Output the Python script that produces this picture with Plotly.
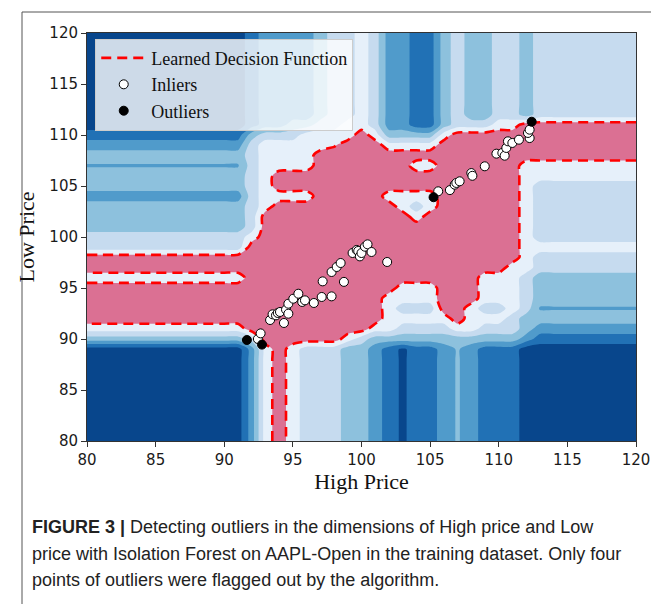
import numpy as np
import plotly.graph_objects as go

# Isolation-forest decision score sampled on a 1-unit grid of (High, Low) prices.
# Rows run from Low = 120 (top) down to Low = 80, columns from High = 80 to 120.
# Each row is run-length coded as "band*count": band 0 is the most anomalous
# level, band 6 lies inside the learned decision boundary.
grid_high = list(range(80, 121))
grid_low_desc = list(range(120, 79, -1))

TOP_ROW = "0*12 1 2*4 3 4*2 5 4 2*2 1*2 3 4 3*2 4*2 3 4*8"
BOTTOM_ROW = "0*12 2 5 6 5 4*3 3*2 2 1 0.3 1*2 2 2.6 2 1*3 0*9"

score_rows = [TOP_ROW] * 9 + [
    "0*12 1 2*2 3*2 4*2 5*2 4 2*2 1*2 3 4*3 5*2 6*9",   # 111
    "1*12 3 4*3 5*4 6 5 3*4 5 6*14",                    # 110
    "2*12 4 5*5 5.4 6*3 5*4 6*15",                      # 109
    "3*12 4 5*4 6*24",                                  # 108
    "2.4*12 4 5*4 6*7 5*2 6*6 5*9",                     # 107
    "3*12 4 5 6*18 5*9",                                # 106
    "3*12 4 5 6*18 5 4*8",                              # 105
    "2*12 4 5*4 6*5 5*4 6*6 5 4*8",                     # 104
    "3*12 4 5 6*9 5 4 5 6*6 5 4*8",                     # 103
    "3*12 4 6*11 5 6*7 5 4*8",                          # 102
    "3*12 4 6*19 5 4*8",                                # 101
    "4*12 5 6*19 5 4*8",                                # 100
    "4*12 6*20 5*9",                                    # 99
    "6*32 5 4*8",                                       # 98
    "6*31 5*2 4*8",                                     # 97
    "5*12 6*17 5*3 4 3*8",                              # 96
    "6*23 5*3 6*3 5*3 4 3*8",                           # 95
    "6*22 5*4 6*3 5*3 4 3*8",                           # 94
    "6*22 5 4*3 6*2 5 4*2 5 4 2.4*8",                   # 93
    "6*22 5*5 6 5*3 4 3*9",                             # 92
    "5*12 6*9 5*2 4*4 5*2 4*3 3 2*8",                   # 91
    "3*12 4 6*6 5 4 3*11 2 1*8",                        # 90
] + [BOTTOM_ROW] * 10

# Training points (High, Low)
inlier_high = [92.45, 92.65, 93.34, 93.52, 93.77, 93.9, 94.06, 94.35, 94.5, 94.67,
               94.67, 95.03, 95.4, 95.68, 95.88, 96.53, 97.1, 97.17, 97.82, 97.82,
               98.19, 98.48, 98.72, 99.35, 99.65, 99.76, 99.88, 100.0, 100.25, 100.44,
               100.73, 101.87, 105.59, 106.44, 106.79, 106.91, 107.15, 108.0, 108.08,
               108.98, 109.83, 110.26, 110.43, 110.55, 110.67, 110.99, 111.47, 112.25,
               112.13, 112.25]
inlier_low = [90.0, 90.55, 91.86, 92.42, 92.32, 92.55, 92.65, 91.57, 92.88, 93.46,
              92.48, 93.95, 94.44, 93.63, 93.79, 93.53, 94.12, 95.65, 94.18, 96.57,
              97.06, 97.45, 95.6, 98.43, 98.73, 98.63, 98.1, 98.43, 99.05, 99.28,
              98.53, 97.55, 104.48, 104.6, 105.13, 105.3, 105.46, 106.27, 106.0,
              106.93, 108.17, 108.24, 107.97, 108.73, 109.38, 109.22, 109.54, 109.7,
              110.2, 110.52]
outlier_high = [91.65, 92.75, 105.25, 112.4]
outlier_low = [89.9, 89.45, 103.9, 111.3]

band_colors = ["#08468c", "#2171b5", "#509bcb", "#8dc1dd", "#c6dbef", "#e6f0fa", "#db7093"]


def decode(row):
    values = []
    for tok in row.split():
        v, _, n = tok.partition("*")
        values.extend([float(v)] * int(n or 1))
    return values


Z = np.array([decode(r) for r in score_rows])[::-1]
grid_low = grid_low_desc[::-1]
assert Z.shape == (41, 41), Z.shape

nb = len(band_colors)
colorscale = []
for k, c in enumerate(band_colors):
    lo = max(0.0, (k - 0.5) / (nb - 1))
    hi = min(1.0, (k + 0.5) / (nb - 1))
    colorscale += [[lo, c], [hi, c]]

SMOOTH = 0.7
DASH = "10px,6px"

fig = go.Figure()
fig.add_trace(go.Contour(
    x=grid_high, y=grid_low, z=Z,
    contours=dict(start=0.5, end=5.5, size=1, coloring="fill", showlines=False),
    colorscale=colorscale, showscale=False,
    line=dict(width=0, smoothing=SMOOTH),
    hoverinfo="skip", showlegend=False,
))
fig.add_trace(go.Contour(
    x=grid_high, y=grid_low, z=Z,
    contours=dict(start=5.5, end=5.5, size=1, coloring="none"),
    showscale=False,
    line=dict(color="#ff0000", width=2.6, dash=DASH, smoothing=SMOOTH),
    hoverinfo="skip", showlegend=False,
))
fig.add_trace(go.Scatter(
    x=[None], y=[None], mode="lines", name="Learned Decision Function",
    line=dict(color="#ff0000", width=2.6, dash=DASH),
))
fig.add_trace(go.Scatter(
    x=inlier_high, y=inlier_low, mode="markers", name="Inliers",
    marker=dict(color="white", size=9, line=dict(color="black", width=1)),
))
fig.add_trace(go.Scatter(
    x=outlier_high, y=outlier_low, mode="markers", name="Outliers",
    marker=dict(color="black", size=9, line=dict(color="black", width=1)),
))

axis_common = dict(
    range=[80, 120], tickvals=list(range(80, 121, 5)), ticks="outside", ticklen=5,
    tickwidth=1, tickcolor="#333", showline=True, linecolor="#333", linewidth=1,
    mirror=True, showgrid=False, zeroline=False, automargin=False,
    tickfont=dict(family="DejaVu Sans", size=15, color="#1a1a1a"),
)

fig.update_layout(
    width=651, height=604, autosize=False,
    margin=dict(l=87, r=15, t=33, b=163),
    paper_bgcolor="white", plot_bgcolor="white",
    xaxis=dict(**axis_common, title=dict(text="High Price", standoff=4,
               font=dict(family="Liberation Serif", size=22, color="#111"))),
    yaxis=dict(**axis_common, title=dict(text="Low Price", standoff=8,
               font=dict(family="Liberation Serif", size=22, color="#111"))),
    legend=dict(x=0.015, y=0.986, xanchor="left", yanchor="top",
                bgcolor="rgba(255,255,255,0.8)", bordercolor="#cccccc", borderwidth=1,
                font=dict(family="Liberation Serif", size=18, color="#111"),
                itemwidth=45),
    showlegend=True,
)

# Figure caption
caption = [
    "<b>FIGURE 3 |</b> Detecting outliers in the dimensions of High price and Low",
    "price with Isolation Forest on AAPL-Open in the training dataset. Only four",
    "points of outliers were flagged out by the algorithm.",
]
for i, line in enumerate(caption):
    fig.add_annotation(
        text=line, xref="paper", yref="paper",
        x=(30 - 87) / 549, y=(441 - 527 - 26.5 * i) / 408,
        xanchor="left", yanchor="middle", showarrow=False,
        font=dict(family="Liberation Sans", size=18, color="#222"),
    )

# Page frame around the figure
frame = dict(type="line", xref="paper", yref="paper", line=dict(color="#555", width=1))
fig.add_shape(**frame, x0=(22 - 87) / 549, x1=(651 - 87) / 549,
              y0=(441 - 12) / 408, y1=(441 - 12) / 408)
fig.add_shape(**frame, x0=(22 - 87) / 549, x1=(22 - 87) / 549,
              y0=(441 - 12) / 408, y1=(441 - 604) / 408)

fig.write_html("out.html")
